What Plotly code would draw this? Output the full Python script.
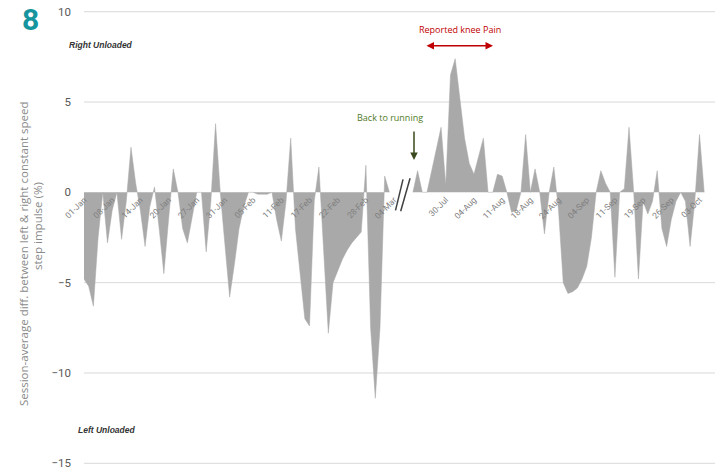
import plotly.graph_objects as go

# ---------------- data ----------------
# session index (category position) and session-average difference (%)
seg1_session = list(range(0, 66))
seg1_diff = [-4.8, -5.2, -6.3, -2.5, 0, -2.8, -1.0, 0, -2.6, -0.5,
             2.5, 0.5, -1.0, -3.0, -0.8, 0.3, -2.0, -4.5, -1.5, 1.3,
             0, -2.0, -2.8, -1.5, 0, 0, -3.3, -0.5, 3.8, 0,
             -3.0, -5.8, -4.0, -2.0, -0.8, 0, 0, -0.1, -0.1, -0.1,
             0, -1.5, -2.7, -0.5, 3.0, -2.0, -4.5, -7.0, -7.4, -0.5,
             1.4, -3.5, -7.8, -5.0, -4.3, -3.7, -3.2, -2.8, -2.5, -2.2,
             1.5, -7.5, -11.4, -7.5, 0.9, 0]

seg2_session = list(range(70, 133))
seg2_diff = [0, 1.2, 0, 0, 1.2, 2.4, 3.6, 0.4, 6.5, 7.4,
             5.2, 3.0, 1.6, 1.0, 2.0, 3.0, 0, 0, 1.0, 0.9,
             0, -1.1, -1.0, 0, 3.2, 0, 1.3, 0, -2.3, 0,
             1.4, -1.0, -5.0, -5.6, -5.5, -5.3, -4.8, -4.1, -2.5, 0,
             1.2, 0.5, 0, -4.7, 0, 0.2, 3.6, 0, -4.8, -0.5,
             -1.2, -0.5, 1.2, -2.0, -3.0, -1.5, -0.5, 0, -0.5, -3.0,
             -0.5, 3.2, 0]

tick_sessions = [0, 6, 12, 18, 24, 30, 36, 42, 48, 54, 60, 66,
                 77, 83, 89, 95, 101, 107, 113, 119, 125, 131]
tick_labels = ["01-Jan", "08-Jan", "14-Jan", "20-Jan", "27-Jan", "31-Jan",
               "05-Feb", "11-Feb", "17-Feb", "22-Feb", "28-Feb", "04-Mar",
               "30-Jul", "04-Aug", "11-Aug", "18-Aug", "24-Aug", "04-Sep",
               "11-Sep", "19-Sep", "26-Sep", "03-Oct"]

y_ticks = [-15, -10, -5, 0, 5, 10]
grid_values = [-15, -10, -5, 5, 10]
Y_MIN, Y_MAX = -15.15, 10.15
X_MIN, X_MAX = 0, 134.3

# ---------------- layout helpers ----------------
W, H = 724, 473
UNIT = 18.04          # pixels per percentage point
ZERO_PIX = 192.4      # page pixel row of y = 0
PLOT_L, PLOT_R = 84, 715
PLOT_T = ZERO_PIX - Y_MAX * UNIT
PLOT_B = ZERO_PIX - Y_MIN * UNIT
ML, MT = PLOT_L, PLOT_T
MR, MB = W - PLOT_R, H - PLOT_B
PW, PH = PLOT_R - PLOT_L, PLOT_B - PLOT_T


def paper(px, py):
    return (px - PLOT_L) / PW, (PLOT_B - py) / PH


AREA = "#a9a9a9"

fig = go.Figure()
for xs, ys in [(seg1_session, seg1_diff), (seg2_session, seg2_diff)]:
    fig.add_trace(go.Scatter(x=xs, y=ys, mode="lines", fill="tozeroy",
                             fillcolor=AREA, line=dict(color=AREA, width=0.5),
                             hoverinfo="skip", showlegend=False))

shapes = []
for g in grid_values:
    shapes.append(dict(type="line", xref="paper", yref="y", x0=0, x1=1, y0=g, y1=g,
                       line=dict(color="#d9d9d9", width=1), layer="below"))
# axis break marks "//"
for (x0, y0, x1, y1) in [(66.3, -1.0, 67.9, 0.72), (67.4, -1.05, 69.4, 0.78)]:
    shapes.append(dict(type="line", xref="x", yref="y", x0=x0, y0=y0, x1=x1, y1=y1,
                       line=dict(color="#404040", width=1.5)))

annotations = []


def text(px, py, s, size, color, family="Roboto", xanchor="center", bold=False,
         italic=False, angle=0):
    x, y = paper(px, py)
    if bold:
        s = "<b>" + s + "</b>"
    if italic:
        s = "<i>" + s + "</i>"
    annotations.append(dict(x=x, y=y, xref="paper", yref="paper", text=s,
                            showarrow=False, xanchor=xanchor, yanchor="middle",
                            textangle=angle,
                            font=dict(size=size, color=color, family=family)))


text(30, 20, "8", 30, "#16959f", family="Roboto", bold=True)
text(67, 45, "Right Unloaded", 8.5, "#333333", family="Liberation Sans",
     xanchor="left", bold=True, italic=True)
text(76, 430, "Left Unloaded", 8.5, "#333333", family="Liberation Sans",
     xanchor="left", bold=True, italic=True)
text(460, 30, "Reported knee Pain", 9, "#c00000", family="Open Sans")
text(390, 118, "Back to running", 9, "#4f7a28", family="Open Sans")
text(23, 254, "Session-average diff. between left &amp; right constant speed",
     11.5, "#8a8a8a", family="Open Sans", angle=-90)
text(38, 226, "step impulse (%)", 11.5, "#8a8a8a", family="Open Sans", angle=-90)

# double arrow for knee pain
ax1, ay1 = paper(493, 46)
annotations.append(dict(x=ax1, y=ay1, xref="paper", yref="paper", ax=-68, ay=0,
                        axref="pixel", ayref="pixel", text="", showarrow=True,
                        arrowhead=2, startarrowhead=2, arrowside="end+start",
                        arrowsize=1, arrowwidth=1.5, arrowcolor="#c00000"))
# back to running arrow
bx, by = paper(414, 160)
annotations.append(dict(x=bx, y=by, xref="paper", yref="paper", ax=0, ay=-30,
                        axref="pixel", ayref="pixel", text="", showarrow=True,
                        arrowhead=2, arrowsize=1, arrowwidth=1.5,
                        arrowcolor="#3b4a1e"))

fig.update_layout(
    width=W, height=H,
    margin=dict(l=ML, r=MR, t=MT, b=MB, autoexpand=False),
    paper_bgcolor="white", plot_bgcolor="white",
    shapes=shapes, annotations=annotations,
    xaxis=dict(range=[X_MIN, X_MAX], tickmode="array", tickvals=tick_sessions,
               ticktext=tick_labels, tickangle=-45, showgrid=False, zeroline=False,
               showline=False, ticks="", anchor="free", automargin=False,
               position=(0 - Y_MIN) / (Y_MAX - Y_MIN),
               tickfont=dict(size=8.5, color="#7f7f7f", family="Roboto")),
    yaxis=dict(range=[Y_MIN, Y_MAX], tickmode="array", tickvals=y_ticks,
               showgrid=False, zeroline=False, showline=False, ticks="",
               ticklabelstandoff=12, automargin=False,
               tickfont=dict(size=11.5, color="#595959", family="Roboto")),
)

# remove the browser's default 8px page margin so the figure sits at the corner
fig.write_html("out.html", config={"displayModeBar": False},
               post_script="document.body.style.margin='0';")
